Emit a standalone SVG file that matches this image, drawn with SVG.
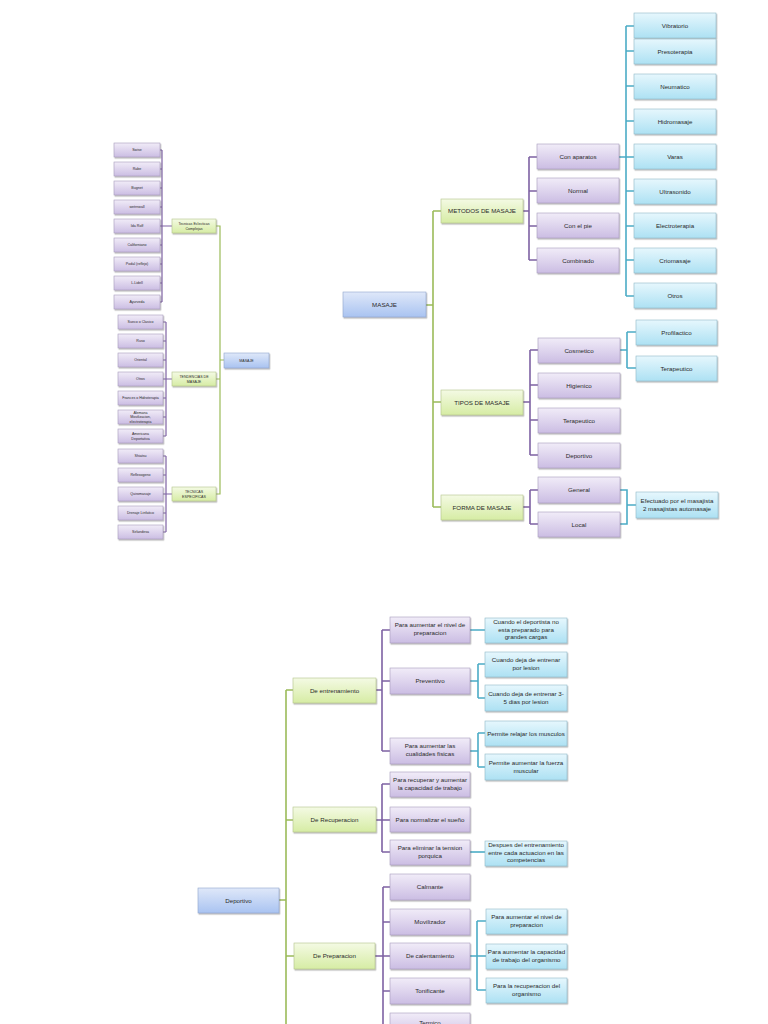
<svg xmlns="http://www.w3.org/2000/svg" width="768" height="1024" viewBox="0 0 768 1024">
<defs>
<linearGradient id="gp" x1="0" y1="0" x2="0" y2="1"><stop offset="0" stop-color="#f1ecf8"/><stop offset="1" stop-color="#cbbde3"/></linearGradient>
<linearGradient id="gg" x1="0" y1="0" x2="0" y2="1"><stop offset="0" stop-color="#f4fae4"/><stop offset="1" stop-color="#d6eca4"/></linearGradient>
<linearGradient id="gb" x1="0" y1="0" x2="0" y2="1"><stop offset="0" stop-color="#dfe8f9"/><stop offset="1" stop-color="#a9c3f1"/></linearGradient>
<linearGradient id="gc" x1="0" y1="0" x2="0" y2="1"><stop offset="0" stop-color="#e6f7fd"/><stop offset="1" stop-color="#ade1f3"/></linearGradient>
<filter id="sh" x="-10%" y="-20%" width="130%" height="160%"><feDropShadow dx="0.8" dy="1.2" stdDeviation="0.7" flood-color="#000" flood-opacity="0.35"/></filter>
</defs>
<style>
.p{fill:url(#gp);stroke:#a79cbc;stroke-width:0.6;filter:url(#sh)}
.g{fill:url(#gg);stroke:#b3c48a;stroke-width:0.6;filter:url(#sh)}
.b{fill:url(#gb);stroke:#90a6cc;stroke-width:0.6;filter:url(#sh)}
.c{fill:url(#gc);stroke:#8fb8c8;stroke-width:0.6;filter:url(#sh)}
text{font-family:"Liberation Sans",Arial,sans-serif;fill:#2a2a2a;text-anchor:middle}
.t{font-size:6.2px}
.s{font-size:3.6px}
.cp{stroke:#7e62a3;stroke-width:1.6;fill:none}
.cg{stroke:#9bbb59;stroke-width:1.6;fill:none}
.cb{stroke:#4bacc6;stroke-width:1.6;fill:none}
.thin{stroke-width:1.2}
</style>

<g id="connectors">
<!-- left tree -->
<path class="cp thin" d="M160,150H162M160,169H162M160,188H162M160,207H162M160,226H162M160,245H162M160,264H162M160,283H162M160,302H162M162,150V302M162,226H172"/>
<path class="cp thin" d="M163,322H166M163,341H166M163,360H166M163,379H166M163,398H166M163,417H166M163,436H166M166,322V436M166,379H172"/>
<path class="cp thin" d="M163,456H166M163,475H166M163,494H166M163,513H166M163,532H166M166,456V532M166,494H172"/>
<path class="cg thin" d="M216,226H220V494H216M216,379H220M220,360H224"/>
<!-- top right tree -->
<path class="cg" d="M426,305H433M433,211V507M433,211H441M433,402H441M433,507H441"/>
<path class="cp" d="M523,211H529M529,157V260M529,157H537M529,191H537M529,226H537M529,260H537"/>
<path class="cb" d="M619,157H626M626,26V296M626,26H634M626,51H634M626,86H634M626,121H634M626,157H634M626,191H634M626,226H634M626,260H634M626,296H634"/>
<path class="cp" d="M523,402H530M530,350V455M530,350H538M530,385H538M530,420H538M530,455H538"/>
<path class="cb" d="M620,350H627M627,332V368M627,332H636M627,368H636"/>
<path class="cp" d="M523,507H530M530,490V524M530,490H538M530,524H538"/>
<path class="cb" d="M620,490H627V524H620M627,505H636"/>
<!-- bottom tree -->
<path class="cg" d="M279,900H286M286,690V1024M286,690H293M286,820H293M286,956H294"/>
<path class="cp" d="M376,690H382M382,630V751M382,630H390M382,681H390M382,751H390"/>
<path class="cb" d="M470,630H485M470,681H478M478,664V698M478,664H485M478,698H485M470,751H478M478,733V767M478,733H485M478,767H485"/>
<path class="cp" d="M376,820H382M382,784V852M382,784H390M382,820H390M382,852H390"/>
<path class="cb" d="M470,852H485"/>
<path class="cp" d="M375,956H383M383,887V1024M383,887H390M383,922H390M383,956H390M383,991H390M383,1025H390"/>
<path class="cb" d="M470,956H477M477,921V990M477,921H486M477,956H486M477,990H486"/>
</g>

<!-- LEFT TREE -->
<g id="l-swise"><rect class="p" x="114" y="143" width="46" height="14"/><text class="s" x="137" y="151.3">Swise</text></g>
<g id="l-rabe"><rect class="p" x="114" y="162" width="46" height="14"/><text class="s" x="137" y="170.3">Rabe</text></g>
<g id="l-bugnet"><rect class="p" x="114" y="181" width="46" height="14"/><text class="s" x="137" y="189.3">Bugnet</text></g>
<g id="l-wetrnwall"><rect class="p" x="114" y="200" width="46" height="14"/><text class="s" x="137" y="208.3">wetrnwall</text></g>
<g id="l-idarolf"><rect class="p" x="114" y="219" width="46" height="14"/><text class="s" x="137" y="227.3">Ida Rolf</text></g>
<g id="l-californiano"><rect class="p" x="114" y="238" width="46" height="14"/><text class="s" x="137" y="246.3">Californiano</text></g>
<g id="l-podal"><rect class="p" x="114" y="257" width="46" height="14"/><text class="s" x="137" y="265.3">Podal (reflejo)</text></g>
<g id="l-lidell"><rect class="p" x="114" y="276" width="46" height="14"/><text class="s" x="137" y="284.3">L.Lidell</text></g>
<g id="l-ayurveda"><rect class="p" x="114" y="295" width="46" height="14"/><text class="s" x="137" y="303.3">Ayurveda</text></g>
<g id="l-eclecticas"><rect class="g" x="172" y="219" width="44" height="14"/><text class="s" x="194" y="225">Tecnicas Eclecticas</text><text class="s" x="194" y="230">Complejas</text></g>

<g id="l-sueco"><rect class="p" x="118" y="315" width="45" height="14"/><text class="s" x="140.5" y="323.3">Sueco o Clasico</text></g>
<g id="l-ruso"><rect class="p" x="118" y="334" width="45" height="14"/><text class="s" x="140.5" y="342.3">Ruso</text></g>
<g id="l-oriental"><rect class="p" x="118" y="353" width="45" height="14"/><text class="s" x="140.5" y="361.3">Oriental</text></g>
<g id="l-otros"><rect class="p" x="118" y="372" width="45" height="14"/><text class="s" x="140.5" y="380.3">Otros</text></g>
<g id="l-frances"><rect class="p" x="118" y="391" width="45" height="14"/><text class="s" x="140.5" y="399.3">Frances o Hidroterapia</text></g>
<g id="l-alemana"><rect class="p" x="118" y="410" width="45" height="14"/><text class="s" x="140.5" y="414">Alemana</text><text class="s" x="140.5" y="418.3">Movilizacion,</text><text class="s" x="140.5" y="422.6">electroterapia</text></g>
<g id="l-americana"><rect class="p" x="118" y="429" width="45" height="14"/><text class="s" x="140.5" y="435">Americana</text><text class="s" x="140.5" y="440">Deportativa</text></g>
<g id="l-tendencias"><rect class="g" x="172" y="372" width="44" height="14"/><text class="s" x="194" y="378">TENDENCIAS DE</text><text class="s" x="194" y="383">MASAJE</text></g>
<g id="l-masaje"><rect class="b" x="224" y="353" width="45" height="15"/><text class="s" x="246.5" y="361.8">MASAJE</text></g>

<g id="l-shiatsu"><rect class="p" x="118" y="449" width="45" height="14"/><text class="s" x="140.5" y="457.3">Shiatsu</text></g>
<g id="l-reflexogeno"><rect class="p" x="118" y="468" width="45" height="14"/><text class="s" x="140.5" y="476.3">Reflexogeno</text></g>
<g id="l-quiromasaje"><rect class="p" x="118" y="487" width="45" height="14"/><text class="s" x="140.5" y="495.3">Quiromasaje</text></g>
<g id="l-drenaje"><rect class="p" x="118" y="506" width="45" height="14"/><text class="s" x="140.5" y="514.3">Drenaje Linfatico</text></g>
<g id="l-sirlandesa"><rect class="p" x="118" y="525" width="45" height="14"/><text class="s" x="140.5" y="533.3">Sirlandesa</text></g>
<g id="l-especificas"><rect class="g" x="172" y="487" width="44" height="14"/><text class="s" x="194" y="493">TECNICAS</text><text class="s" x="194" y="498">ESPECIFICAS</text></g>

<!-- TOP RIGHT TREE -->
<g id="masaje"><rect class="b" x="343" y="292" width="83" height="25"/><text class="t" x="384.5" y="307">MASAJE</text></g>
<g id="metodos"><rect class="g" x="441" y="199" width="82" height="24"/><text class="t" x="482" y="213.3">METODOS DE MASAJE</text></g>
<g id="tipos"><rect class="g" x="441" y="390" width="82" height="25"/><text class="t" x="482" y="404.5">TIPOS DE MASAJE</text></g>
<g id="forma"><rect class="g" x="441" y="495" width="82" height="25"/><text class="t" x="482" y="509.5">FORMA DE MASAJE</text></g>

<g id="con-aparatos"><rect class="p" x="537" y="144" width="82" height="25"/><text class="t" x="578" y="158.5">Con aparatos</text></g>
<g id="normal"><rect class="p" x="537" y="178" width="82" height="25"/><text class="t" x="578" y="192.5">Normal</text></g>
<g id="con-el-pie"><rect class="p" x="537" y="213" width="82" height="25"/><text class="t" x="578" y="227.5">Con el pie</text></g>
<g id="combinado"><rect class="p" x="537" y="248" width="82" height="25"/><text class="t" x="578" y="262.5">Combinado</text></g>

<g id="vibratorio"><rect class="c" x="634" y="13" width="82" height="25"/><text class="t" x="675" y="27.5">Vibratorio</text></g>
<g id="presoterapia"><rect class="c" x="634" y="39" width="82" height="25"/><text class="t" x="675" y="53.5">Presoterapia</text></g>
<g id="neumatico"><rect class="c" x="634" y="74" width="82" height="25"/><text class="t" x="675" y="88.5">Neumatico</text></g>
<g id="hidromasaje"><rect class="c" x="634" y="109" width="82" height="25"/><text class="t" x="675" y="123.5">Hidromasaje</text></g>
<g id="varas"><rect class="c" x="634" y="144" width="82" height="25"/><text class="t" x="675" y="158.5">Varas</text></g>
<g id="ultrasonido"><rect class="c" x="634" y="179" width="82" height="25"/><text class="t" x="675" y="193.5">Ultrasonido</text></g>
<g id="electroterapia"><rect class="c" x="634" y="213" width="82" height="25"/><text class="t" x="675" y="227.5">Electroterapia</text></g>
<g id="criomasaje"><rect class="c" x="634" y="248" width="82" height="25"/><text class="t" x="675" y="262.5">Criomasaje</text></g>
<g id="otros"><rect class="c" x="634" y="283" width="82" height="25"/><text class="t" x="675" y="297.5">Otros</text></g>

<g id="cosmetico"><rect class="p" x="538" y="338" width="82" height="25"/><text class="t" x="579" y="352.5">Cosmetico</text></g>
<g id="higienico"><rect class="p" x="538" y="373" width="82" height="25"/><text class="t" x="579" y="387.5">Higienico</text></g>
<g id="terapeutico-t"><rect class="p" x="538" y="408" width="82" height="25"/><text class="t" x="579" y="422.5">Terapeutico</text></g>
<g id="deportivo-t"><rect class="p" x="538" y="443" width="82" height="25"/><text class="t" x="579" y="457.5">Deportivo</text></g>
<g id="profilactico"><rect class="c" x="636" y="320" width="81" height="25"/><text class="t" x="676.5" y="334.5">Profilactico</text></g>
<g id="terapeutico-c"><rect class="c" x="636" y="356" width="81" height="25"/><text class="t" x="676.5" y="370.5">Terapeutico</text></g>

<g id="general"><rect class="p" x="538" y="477" width="82" height="26"/><text class="t" x="579" y="491.5">General</text></g>
<g id="local"><rect class="p" x="538" y="512" width="82" height="25"/><text class="t" x="579" y="526.5">Local</text></g>
<g id="efectuado"><rect class="c" x="636" y="492" width="82" height="26"/><text class="t" x="677" y="503">Efectuado por el masajista</text><text class="t" x="677" y="510.5">2 masajistas automasaje</text></g>

<!-- BOTTOM TREE -->
<g id="deportivo"><rect class="b" x="198" y="888" width="81" height="25"/><text class="t" x="238.5" y="902.5">Deportivo</text></g>
<g id="entrenamiento"><rect class="g" x="293" y="678" width="83" height="25"/><text class="t" x="334.5" y="692.5">De entrenamiento</text></g>
<g id="recuperacion"><rect class="g" x="293" y="807" width="83" height="25"/><text class="t" x="334.5" y="821.5">De Recuperacion</text></g>
<g id="preparacion"><rect class="g" x="294" y="943" width="81" height="26"/><text class="t" x="334.5" y="958">De Preparacion</text></g>

<g id="e-nivel"><rect class="p" x="390" y="617" width="80" height="26"/><text class="t" x="430" y="627">Para aumentar el nivel de</text><text class="t" x="430" y="635">preparacion</text></g>
<g id="e-preventivo"><rect class="p" x="390" y="668" width="80" height="26"/><text class="t" x="430" y="683">Preventivo</text></g>
<g id="e-cualidades"><rect class="p" x="390" y="738" width="80" height="26"/><text class="t" x="430" y="748">Para aumentar las</text><text class="t" x="430" y="756">cualidades fisicas</text></g>
<g id="e-cuando1"><rect class="c" x="485" y="618" width="82" height="25"/><text class="t" x="526" y="624">Cuando el deportista no</text><text class="t" x="526" y="631.5">esta preparado para</text><text class="t" x="526" y="639">grandes cargas</text></g>
<g id="e-cuando2"><rect class="c" x="485" y="652" width="82" height="25"/><text class="t" x="526" y="662">Cuando deja de entrenar</text><text class="t" x="526" y="670">por lesion</text></g>
<g id="e-cuando3"><rect class="c" x="485" y="685" width="82" height="26"/><text class="t" x="526" y="695.5">Cuando deja de entrenar 3-</text><text class="t" x="526" y="703.5">5 dias por lesion</text></g>
<g id="e-relajar"><rect class="c" x="485" y="721" width="82" height="25"/><text class="t" x="526" y="735.5">Permite relajar los musculos</text></g>
<g id="e-fuerza"><rect class="c" x="485" y="754" width="82" height="26"/><text class="t" x="526" y="764.5">Permite aumentar la fuerza</text><text class="t" x="526" y="772.5">muscular</text></g>

<g id="r-recuperar"><rect class="p" x="390" y="772" width="80" height="25"/><text class="t" x="430" y="781.5">Para recuperar y aumentar</text><text class="t" x="430" y="789.5">la capacidad de trabajo</text></g>
<g id="r-sueno"><rect class="p" x="390" y="807" width="80" height="25"/><text class="t" x="430" y="821.5">Para normalizar el sueño</text></g>
<g id="r-tension"><rect class="p" x="390" y="840" width="80" height="25"/><text class="t" x="430" y="849.5">Para eliminar la tension</text><text class="t" x="430" y="857.5">porquica</text></g>
<g id="r-despues"><rect class="c" x="485" y="841" width="82" height="25"/><text class="t" x="526" y="847">Despues del entrenamiento</text><text class="t" x="526" y="854.5">entre cada actuacion en las</text><text class="t" x="526" y="862">competencias</text></g>

<g id="p-calmante"><rect class="p" x="390" y="874" width="80" height="26"/><text class="t" x="430" y="889">Calmante</text></g>
<g id="p-movilizador"><rect class="p" x="390" y="909" width="80" height="26"/><text class="t" x="430" y="924">Movilizador</text></g>
<g id="p-calentamiento"><rect class="p" x="390" y="943" width="80" height="26"/><text class="t" x="430" y="958">De calentamiento</text></g>
<g id="p-tonificante"><rect class="p" x="390" y="978" width="80" height="26"/><text class="t" x="430" y="993">Tonificante</text></g>
<g id="p-termico"><rect class="p" x="390" y="1013" width="80" height="26"/><text class="t" x="430" y="1025">Termico</text></g>
<g id="p-nivel"><rect class="c" x="486" y="909" width="81" height="25"/><text class="t" x="526.5" y="918.5">Para aumentar el nivel de</text><text class="t" x="526.5" y="926.5">preparacion</text></g>
<g id="p-capacidad"><rect class="c" x="486" y="944" width="81" height="25"/><text class="t" x="526.5" y="953.5">Para aumentar la capacidad</text><text class="t" x="526.5" y="961.5">de trabajo del organismo</text></g>
<g id="p-recuperacion"><rect class="c" x="486" y="978" width="81" height="25"/><text class="t" x="526.5" y="987.5">Para la recuperacion del</text><text class="t" x="526.5" y="995.5">organismo</text></g>
</svg>
